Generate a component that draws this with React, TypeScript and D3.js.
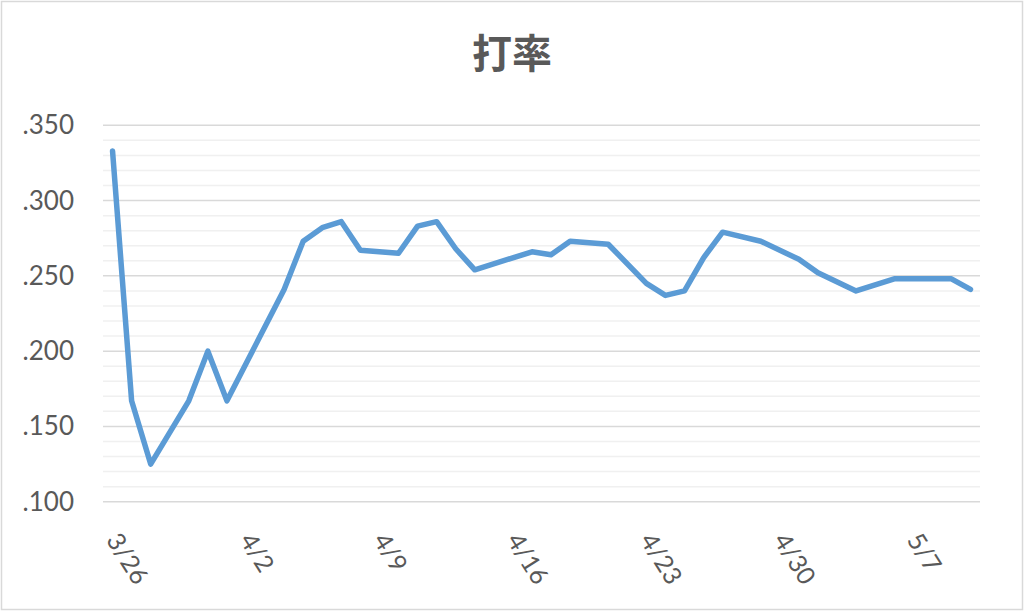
import React from "react";
import * as d3 from "d3";

// ---- data ----
const TITLE = "打率";
// game dates (year arbitrary) and batting average after each game
const dates: string[] = [
  "2021-03-26", "2021-03-27", "2021-03-28", "2021-03-30", "2021-03-31", "2021-04-01",
  "2021-04-04", "2021-04-05", "2021-04-06", "2021-04-07", "2021-04-08", "2021-04-10",
  "2021-04-11", "2021-04-12", "2021-04-13", "2021-04-14", "2021-04-17", "2021-04-18",
  "2021-04-19", "2021-04-21", "2021-04-23", "2021-04-24", "2021-04-25", "2021-04-26",
  "2021-04-27", "2021-04-29", "2021-05-01", "2021-05-02", "2021-05-04", "2021-05-06",
  "2021-05-09", "2021-05-10",
];
const avg: number[] = [
  0.333, 0.167, 0.125, 0.167, 0.200, 0.167,
  0.241, 0.273, 0.282, 0.286, 0.267, 0.265,
  0.283, 0.286, 0.268, 0.254, 0.266, 0.264,
  0.273, 0.271, 0.245, 0.237, 0.240, 0.262,
  0.279, 0.273, 0.261, 0.252, 0.240, 0.248,
  0.248, 0.241,
];
const xTickDates: string[] = ["2021-03-26", "2021-04-02", "2021-04-09", "2021-04-16", "2021-04-23", "2021-04-30", "2021-05-07"];
const yMajorTicks: number[] = [0.1, 0.15, 0.2, 0.25, 0.3, 0.35];
const yMinorTicks: number[] = d3.range(10, 36).map((v) => v / 100);

const W = 1024;
const H = 611;
const plot = { left: 103, right: 980, top: 125.3, bottom: 501.7 };
const FONT = "Lato, 'Liberation Sans', sans-serif";
const TEXT = "#595959";

export default function App() {
  const parse = d3.timeParse("%Y-%m-%d");
  const half = 12 * 3600 * 1000;
  const d0 = parse("2021-03-26")!;
  const d1 = parse("2021-05-10")!;
  const x = d3
    .scaleTime()
    .domain([new Date(d0.getTime() - half), new Date(d1.getTime() + half)])
    .range([plot.left, plot.right]);
  const y = d3.scaleLinear().domain([0.1, 0.35]).range([plot.bottom, plot.top]);

  const pts = dates.map((d, i) => ({ d: parse(d)!, v: avg[i] }));
  const line = d3
    .line<{ d: Date; v: number }>()
    .x((p) => x(p.d))
    .y((p) => y(p.v));

  const fmtY = (v: number) => d3.format(".3f")(v).replace(/^0/, "");
  const fmtX = d3.timeFormat("%-m/%-d");

  return (
    <svg
      width={W}
      height={H}
      style={{ position: "absolute", left: 0, top: 0, background: "#fff" }}
    >
      <rect x={0} y={0} width={W} height={H} fill="#fff" />
      <rect x={1.5} y={1.5} width={1021} height={608} fill="none" stroke="#d9d9d9" strokeWidth={1.5} />
      <text
        x={512}
        y={68}
        textAnchor="middle"
        fontFamily="'Noto Sans CJK JP', sans-serif"
        fontWeight="bold"
        fontSize={40}
        fill={TEXT}
      >
        {TITLE}
      </text>
      {yMinorTicks
        .filter((t) => !yMajorTicks.some((m) => Math.abs(m - t) < 1e-6))
        .map((t) => (
          <line key={"mi" + t} x1={plot.left} x2={plot.right} y1={y(t)} y2={y(t)} stroke="#f0f0f0" strokeWidth={1.5} />
        ))}
      {yMajorTicks.map((t) => (
        <line key={"ma" + t} x1={plot.left} x2={plot.right} y1={y(t)} y2={y(t)} stroke="#d9d9d9" strokeWidth={1.5} />
      ))}
      {yMajorTicks.map((t) => (
        <text
          key={"yl" + t}
          x={74}
          y={y(t) + 9}
          textAnchor="end"
          fontFamily={FONT}
          fontSize={26}
          fill={TEXT}
        >
          {fmtY(t)}
        </text>
      ))}
      {xTickDates.map((s) => {
        const dt = parse(s)!;
        const tx = x(dt);
        return (
          <text
            key={s}
            transform={`translate(${tx - 7},${540}) rotate(58)`}
            fontFamily={FONT}
            fontSize={25}
            fill={TEXT}
          >
            {fmtX(dt)}
          </text>
        );
      })}
      <path
        d={line(pts) || ""}
        fill="none"
        stroke="#5b9bd5"
        strokeWidth={5.5}
        strokeLinejoin="round"
        strokeLinecap="round"
      />
    </svg>
  );
}
